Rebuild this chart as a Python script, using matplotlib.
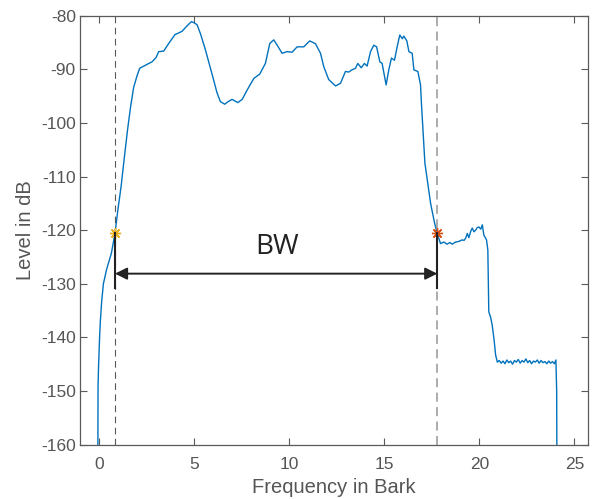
import matplotlib.pyplot as plt

plt.rcParams['axes.unicode_minus'] = False

# spectrum (Bark vs level in dB)
bark = [-0.06, -0.05, -0.02, 0.03, 0.07, 0.14, 0.23, 0.4, 0.65, 0.84, 1.0, 1.16, 1.33, 1.5,
        1.66, 1.82, 2.0, 2.14, 2.4, 2.62, 2.79, 3.0, 3.14, 3.4, 3.7, 4.0, 4.2, 4.37, 4.6,
        4.86, 5.0, 5.16, 5.35, 5.6, 5.8, 6.03, 6.2, 6.38, 6.61, 6.8, 7.0, 7.15, 7.3, 7.53,
        7.8, 8.14, 8.45, 8.75, 8.98, 9.19, 9.37, 9.63, 9.89, 10.16, 10.42, 10.77, 11.08,
        11.38, 11.65, 11.82, 12.08, 12.44, 12.7, 12.96, 13.14, 13.3, 13.49, 13.61, 13.79,
        13.96, 14.1, 14.28, 14.45, 14.6, 14.77, 14.89, 15.1, 15.24, 15.38, 15.54, 15.68,
        15.82, 15.95, 16.03, 16.19, 16.3, 16.47, 16.56, 16.77, 16.91, 16.96, 17.05, 17.14,
        17.3, 17.44, 17.65, 17.79, 17.96, 18.14, 18.3, 18.45, 18.58, 18.75, 18.92, 19.1,
        19.2, 19.28, 19.37, 19.45, 19.55, 19.63, 19.72, 19.8, 19.9, 19.98, 20.08, 20.16,
        20.24, 20.38, 20.45, 20.5, 20.6, 20.68, 20.78, 20.86, 20.95]
level = [-161.0, -149.0, -145.0, -140.0, -137.0, -133.3, -130.0, -127.3, -124.3, -120.6,
         -116.0, -111.9, -106.5, -101.3, -97.0, -93.4, -91.2, -89.8, -89.3, -88.9, -88.6,
         -87.8, -86.7, -86.6, -85.0, -83.5, -83.2, -82.9, -82.0, -81.1, -81.3, -81.7,
         -83.5, -86.4, -89.0, -92.0, -94.3, -96.0, -96.5, -96.0, -95.6, -95.9, -96.2,
         -95.6, -93.8, -91.7, -90.9, -88.9, -85.2, -84.5, -85.5, -87.0, -86.7, -86.8,
         -85.8, -85.8, -84.7, -85.2, -87.0, -89.5, -91.9, -93.1, -92.6, -90.4, -90.5,
         -90.1, -89.8, -88.9, -89.7, -88.9, -89.4, -86.7, -85.5, -85.8, -88.6, -88.9,
         -92.9, -90.1, -87.9, -88.3, -85.8, -83.6, -84.3, -83.8, -84.7, -86.7, -87.0,
         -90.1, -90.4, -92.9, -96.5, -102.0, -107.5, -111.5, -115.0, -118.7, -120.6,
         -122.5, -122.2, -122.6, -122.3, -122.6, -122.2, -122.1, -121.8, -121.9, -121.5,
         -120.6, -121.4, -120.2, -119.6, -120.3, -120.0, -119.5, -119.4, -119.8, -119.0,
         -120.9, -121.8, -123.7, -135.2, -136.3, -137.7, -140.5, -143.3, -144.6]

# flat noise floor between ~21 and 24 Bark
floor_bark = [21.05, 21.15, 21.25, 21.35, 21.45, 21.55, 21.65, 21.75, 21.85, 21.95, 22.05,
              22.15, 22.25, 22.35, 22.45, 22.55, 22.65, 22.75, 22.85, 22.95, 23.05, 23.15,
              23.25, 23.35, 23.45, 23.55, 23.65, 23.75, 23.85, 23.95, 24.03, 24.07, 24.08]
floor_level = [-144.3, -144.8, -144.4, -144.9, -144.2, -144.7, -144.4, -145.0, -144.3,
               -144.6, -144.1, -144.8, -144.3, -144.6, -144.0, -144.7, -144.3, -144.9,
               -144.4, -144.6, -144.2, -144.8, -144.3, -144.7, -144.5, -144.9, -144.4,
               -144.8, -144.5, -144.9, -144.2, -150.0, -161.0]

bw_lo, bw_hi = 0.84, 17.79
bw_level = -120.6
arrow_level = -128.1
bar_bottom = -130.7

fig = plt.figure(figsize=(5.93, 4.99), dpi=100)
ax = fig.add_axes([0.1349, 0.1088, 0.8561, 0.8597])

ax.plot(bark + floor_bark, level + floor_level, color='#0072BD', lw=1.0)

ax.axvline(bw_lo, color='0.35', ls=(0, (6, 4)), lw=0.8)
ax.axvline(bw_hi, color='0.65', ls=(0, (5, 3)), lw=1.3)

ax.plot([bw_lo], [bw_level], marker=(8, 2, 0), color='#EDB120', ms=8, mew=1.0)
ax.plot([bw_hi], [bw_level], marker=(8, 2, 0), color='#D95319', ms=8, mew=1.0)

for xb in (bw_lo, bw_hi):
    ax.plot([xb, xb], [bw_level, bar_bottom], color='#222222', lw=1.5)
ax.annotate('', xy=(bw_lo, arrow_level), xytext=(bw_hi, arrow_level),
            arrowprops=dict(arrowstyle='<|-|>', color='#222222', lw=1.4,
                            mutation_scale=18, shrinkA=0, shrinkB=0))
ax.text((bw_lo + bw_hi) / 2 + 0.05, -123.1, 'BW', ha='center', va='center',
        fontsize=20, family='Open Sans', color='#222222')

ax.set_xlim(-1, 25.7)
ax.set_ylim(-160, -80)
ax.set_xticks([0, 5, 10, 15, 20, 25])
ax.set_yticks(range(-160, -79, 10))

grey = '#555555'
for s in ax.spines.values():
    s.set_color('#5a5a5a')
    s.set_linewidth(0.9)
ax.tick_params(direction='in', length=5, width=0.8, colors='#5a5a5a',
               labelcolor=grey, labelsize=12.5, top=True, right=True)
ax.tick_params(axis='x', pad=9)
ax.tick_params(axis='y', pad=3)
for lab in ax.get_xticklabels() + ax.get_yticklabels():
    lab.set_family('Liberation Sans')
ax.set_xlabel('Frequency in Bark', fontsize=14.5, color=grey, family='Liberation Sans',
              labelpad=4)
ax.set_ylabel('Level in dB', fontsize=14.5, color=grey, family='Liberation Sans',
              labelpad=4)

fig.savefig('out.png', dpi=100)
